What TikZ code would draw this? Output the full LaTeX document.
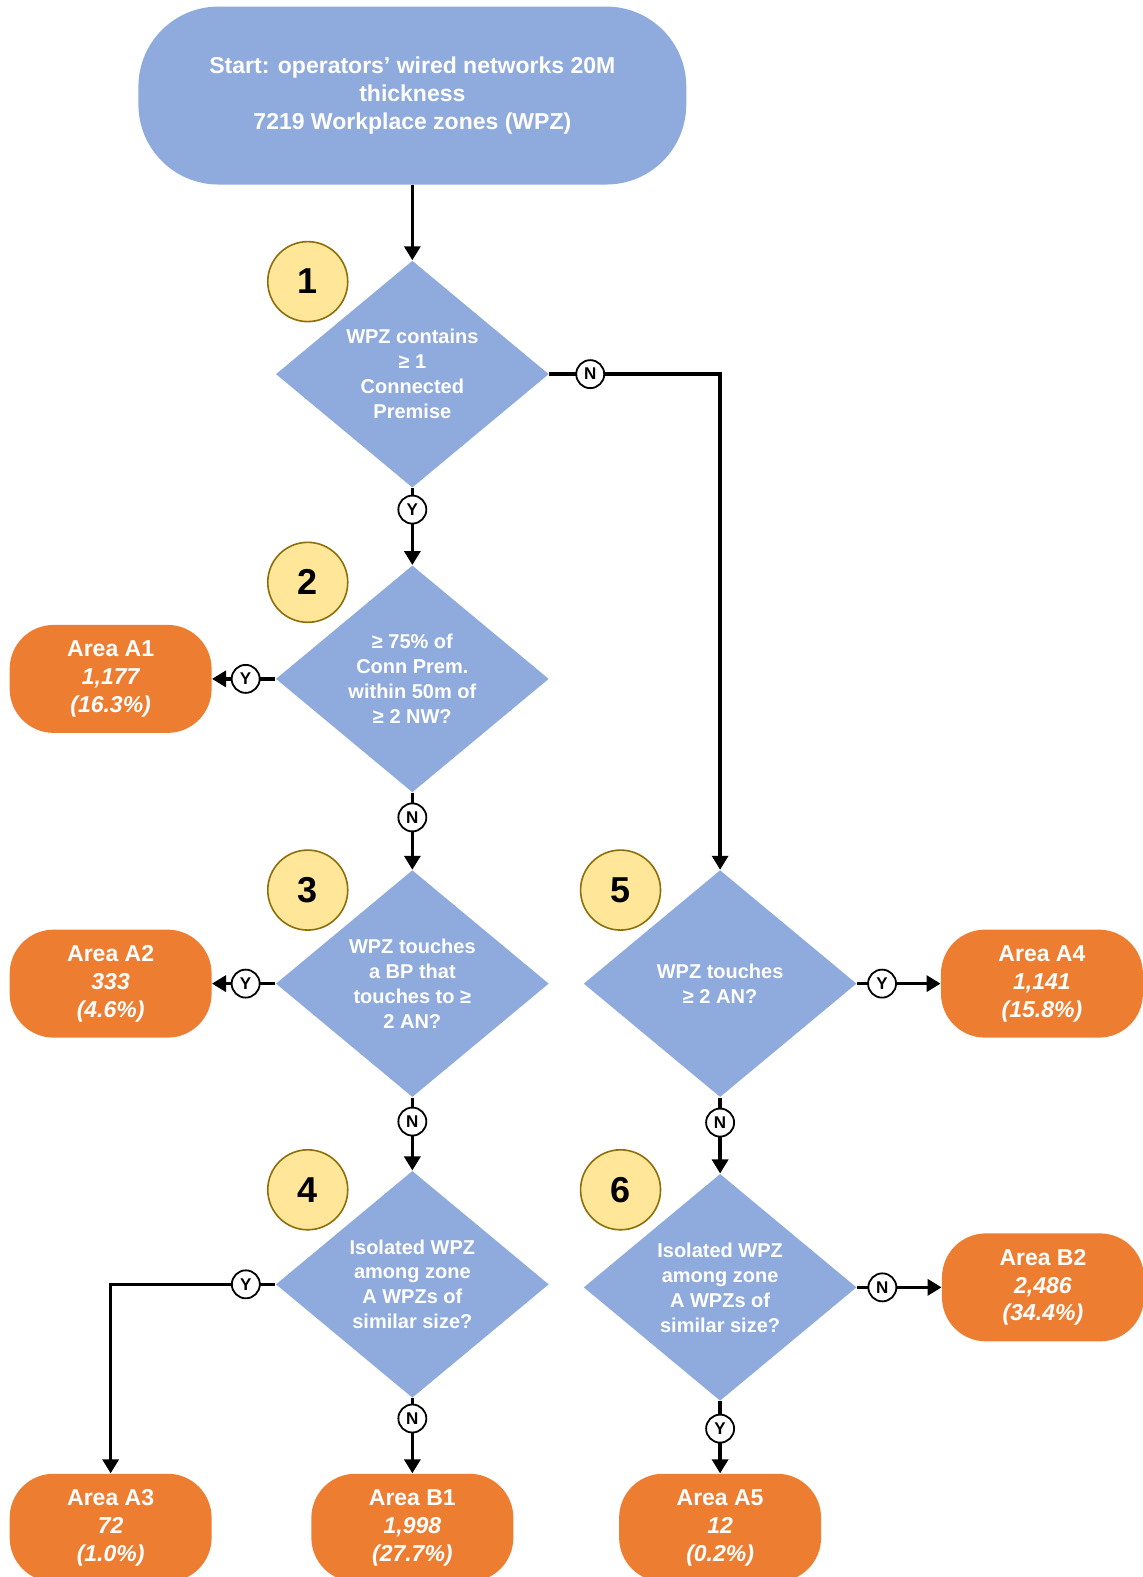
\documentclass[tikz,border=0pt]{standalone}
\usepackage{fontspec}
\setmainfont{Liberation Sans}
\usetikzlibrary{arrows.meta, shapes.geometric}
\definecolor{boxblue}{RGB}{143,170,220}
\definecolor{boxorange}{RGB}{237,125,49}
\definecolor{stepyellow}{RGB}{255,230,153}
\definecolor{stepgold}{RGB}{140,110,10}

\begin{document}
\begin{tikzpicture}[x=0.503pt, y=-0.503pt,
    startbox/.style={fill=boxblue, rounded corners=40pt, minimum width=274pt, minimum height=89pt,
        text=white, align=center, font=\bfseries\fontsize{11.5}{14}\selectfont},
    decision/.style={diamond, fill=boxblue, aspect=1.2, inner sep=0pt, minimum width=136.5pt,
        minimum height=113.5pt, text=white, align=center, font=\bfseries\fontsize{10}{12.5}\selectfont},
    areabox/.style={fill=boxorange, rounded corners=22pt, minimum width=101pt, minimum height=54pt,
        text=white, align=center, font=\bfseries\fontsize{11.5}{14}\selectfont},
    stepnum/.style={circle, fill=stepyellow, draw=stepgold, line width=0.8pt, minimum size=40pt,
        inner sep=0pt, font=\bfseries\fontsize{18}{18}\selectfont},
    yn/.style={circle, draw=black, fill=white, line width=0.9pt, minimum size=14pt, inner sep=0pt,
        font=\bfseries\fontsize{8.5}{8.5}\selectfont},
    flow/.style={line width=1.7pt, -{Triangle[width=8pt, length=7pt]}}
]
    \useasboundingbox (0,0) rectangle (1136,1568);

    % Start
    \node[startbox] (start) at (410,95) {Start: operators’ wired networks 20M\\thickness\\7219 Workplace zones (WPZ)};

    % Decisions
    \node[decision] (d1) at (410,372) {WPZ contains\\≥ 1\\Connected\\Premise};
    \node[decision] (d2) at (410,675) {≥ 75\% of\\Conn Prem.\\within 50m of\\≥ 2 NW?};
    \node[decision] (d3) at (410,978) {WPZ touches\\a BP that\\touches to ≥\\2 AN?};
    \node[decision] (d4) at (410,1277) {Isolated WPZ\\among zone\\A WPZs of\\similar size?};
    \node[decision] (d5) at (716,978) {WPZ touches\\≥ 2 AN?};
    \node[decision] (d6) at (716,1280) {Isolated WPZ\\among zone\\A WPZs of\\similar size?};

    % Step numbers
    \node[stepnum] (n1) at (306,280) {1};
    \node[stepnum] (n2) at (306,579) {2};
    \node[stepnum] (n3) at (306,885) {3};
    \node[stepnum] (n4) at (306,1183) {4};
    \node[stepnum] (n5) at (617,885) {5};
    \node[stepnum] (n6) at (617,1183) {6};

    % Outcomes
    \node[areabox] (a1) at (110,675) {Area A1\\{\itshape 1,177}\\{\itshape (16.3\%)}};
    \node[areabox] (a2) at (110,978) {Area A2\\{\itshape 333}\\{\itshape (4.6\%)}};
    \node[areabox] (a4) at (1036,978) {Area A4\\{\itshape 1,141}\\{\itshape (15.8\%)}};
    \node[areabox] (b2) at (1037,1280) {Area B2\\{\itshape 2,486}\\{\itshape (34.4\%)}};
    \node[areabox] (a3) at (110,1519) {Area A3\\{\itshape 72}\\{\itshape (1.0\%)}};
    \node[areabox] (b1) at (410,1519) {Area B1\\{\itshape 1,998}\\{\itshape (27.7\%)}};
    \node[areabox] (a5) at (716,1519) {Area A5\\{\itshape 12}\\{\itshape (0.2\%)}};

    % Connectors
    \draw[flow] (start) -- (d1);
    \draw[flow] (d1) -- node[yn, pos=0.28] {Y} (d2);
    \draw[flow] (d1.east) -| node[yn, pos=0.12] {N} (d5.north);
    \draw[flow] (d2) -- node[yn, pos=0.47] {Y} (a1);
    \draw[flow] (d2) -- node[yn, pos=0.32] {N} (d3);
    \draw[flow] (d3) -- node[yn, pos=0.47] {Y} (a2);
    \draw[flow] (d3) -- node[yn, pos=0.33] {N} (d4);
    \draw[flow] (d5) -- node[yn, pos=0.3] {Y} (a4);
    \draw[flow] (d5) -- node[yn, pos=0.33] {N} (d6);
    \draw[flow] (d4.west) -| node[yn, pos=0.09] {Y} (a3.north);
    \draw[flow] (d4) -- node[yn, pos=0.27] {N} (b1);
    \draw[flow] (d6) -- node[yn, pos=0.3] {N} (b2);
    \draw[flow] (d6) -- node[yn, pos=0.38] {Y} (a5);
\end{tikzpicture}
\end{document}
